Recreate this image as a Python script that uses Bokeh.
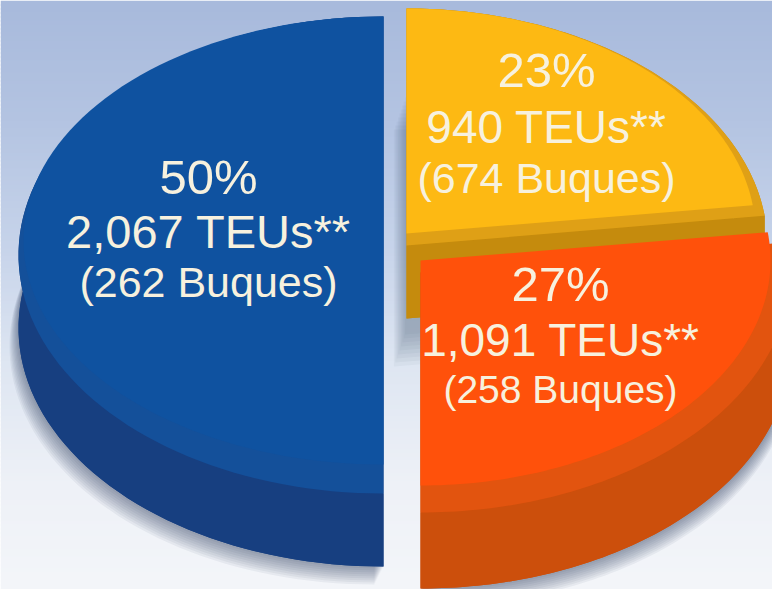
import numpy as np
from bokeh.plotting import figure
from bokeh.models import Range1d
from bokeh.core.properties import value
from bokeh.embed import file_html
from bokeh.resources import INLINE

# ---- chart data ----
shares = [23, 27, 50]
teus = ["940", "1,091", "2,067"]
buques = [674, 258, 262]
face_colors = ["#FDB913", "#FF510B", "#0F52A0"]
bevel_colors = ["#DFA016", "#E2540F", "#14509A"]
side_colors = ["#C58B0D", "#CC4F0C", "#173F80"]
bg_stops_y = [0, 120, 240, 360, 480, 589]
bg_stops_r = [168, 180, 198, 222, 238, 244]
bg_stops_g = [186, 196, 211, 230, 241, 246]
bg_stops_b = [220, 226, 234, 242, 247, 250]

W, H = 772, 589
p = figure(width=W, height=H, output_backend="svg", toolbar_location=None,
           x_range=Range1d(0, W), y_range=Range1d(H, 0),
           min_border=0, outline_line_color=None)
p.axis.visible = False
p.grid.visible = False

# background gradient
ys = np.arange(0, 590, 4)
r = np.interp(ys, bg_stops_y, bg_stops_r)
g = np.interp(ys, bg_stops_y, bg_stops_g)
b = np.interp(ys, bg_stops_y, bg_stops_b)
p.quad(left=0, right=772, top=ys, bottom=ys + 5,
       fill_color=["#%02x%02x%02x" % (int(a), int(c), int(d)) for a, c, d in zip(r, g, b)],
       line_color=None)

# geometry of each exploded slice: image-pixel style layout
#           apex x, face cy, face rx, face ry, rim cy, rim rx, rim ry, depth
GEOM = [(406, 233, 349, 225, 245, 361, 237, 73),
        (420, 260, 350, 225, 272, 370, 240, 76),
        (383, 240, 360, 224, 254.5, 365, 238.5, 73)]

cum = np.cumsum([0] + shares)
angles = [(np.pi / 2 - 2 * np.pi * cum[i] / 100,
           np.pi / 2 - 2 * np.pi * cum[i + 1] / 100) for i in range(3)]


def arc(cx, cy, rx, ry, a0, a1, n=90):
    t = np.linspace(a0, a1, n)
    return cx + rx * np.cos(t), cy - ry * np.sin(t)


def wedge(cx, cy, rx, ry, a0, a1):
    x, y = arc(cx, cy, rx, ry, a0, a1)
    return np.r_[cx, x], np.r_[cy, y]


# soft shadows
for k in range(1, 10):
    for i in (1, 2):
        cx, fcy, frx, fry, cy, rx, ry, d = GEOM[i]
        x, y = wedge(cx, cy + d + k * 2, rx, ry, *angles[i])
        p.patch(x - (k if i == 2 else -k * 0.3), y, fill_color="#2A3A5C", fill_alpha=0.06, line_color=None)
    cx, fcy, frx, fry, cy, rx, ry, d = GEOM[0]
    x, y = wedge(cx - k * 1.4, cy + 85 + k * 4, rx, ry, *angles[0])
    p.patch(x, y, fill_color="#2A3A5C", fill_alpha=0.045, line_color=None)

# slices
for i in range(3):
    cx, fcy, frx, fry, cy, rx, ry, d = GEOM[i]
    a0, a1 = angles[i]
    # extruded side
    ax, ay = arc(cx, cy, rx, ry, a0, a1)
    p.patch(np.r_[ax, ax[::-1]], np.r_[ay, (ay + d)[::-1]], fill_color=side_colors[i], line_color=None)
    x, y = wedge(cx, cy + d, rx, ry, a0, a1)
    p.patch(x, y, fill_color=side_colors[i], line_color=None)
    for a in (a0, a1):
        ex, ey = cx + rx * np.cos(a), cy - ry * np.sin(a)
        p.patch([cx, ex, ex, cx], [cy, ey, ey + d, cy + d], fill_color=side_colors[i], line_color=None)
    # rim bevel
    x, y = wedge(cx, cy, rx, ry, a0, a1)
    p.patch(x, y, fill_color=bevel_colors[i], line_color=None)
    # top face
    x, y = wedge(cx, fcy, frx, fry, a0, a1)
    p.patch(x, y, fill_color=face_colors[i], line_color=None)

# labels: centre x, baselines, sizes
TXT = [(546, [88, 145, 196], [49, 46, 43]),
       (560, [302, 358, 408], [49, 46, 39]),
       (208, [195, 250, 300], [49, 47, 43])]
for i in range(3):
    cx, bases, sizes = TXT[i]
    lines = [f"{shares[i]}%", f"{teus[i]} TEUs**", f"({buques[i]} Buques)"]
    for line, base, size in zip(lines, bases, sizes):
        p.text(x=[cx], y=[base - 19], text=[line], text_align="center", text_baseline="alphabetic",
               text_color="#F7F1DE", text_font=value("Liberation Sans"),
               text_font_size=f"{size}px")

open("out.html", "w").write(file_html(p, INLINE))
